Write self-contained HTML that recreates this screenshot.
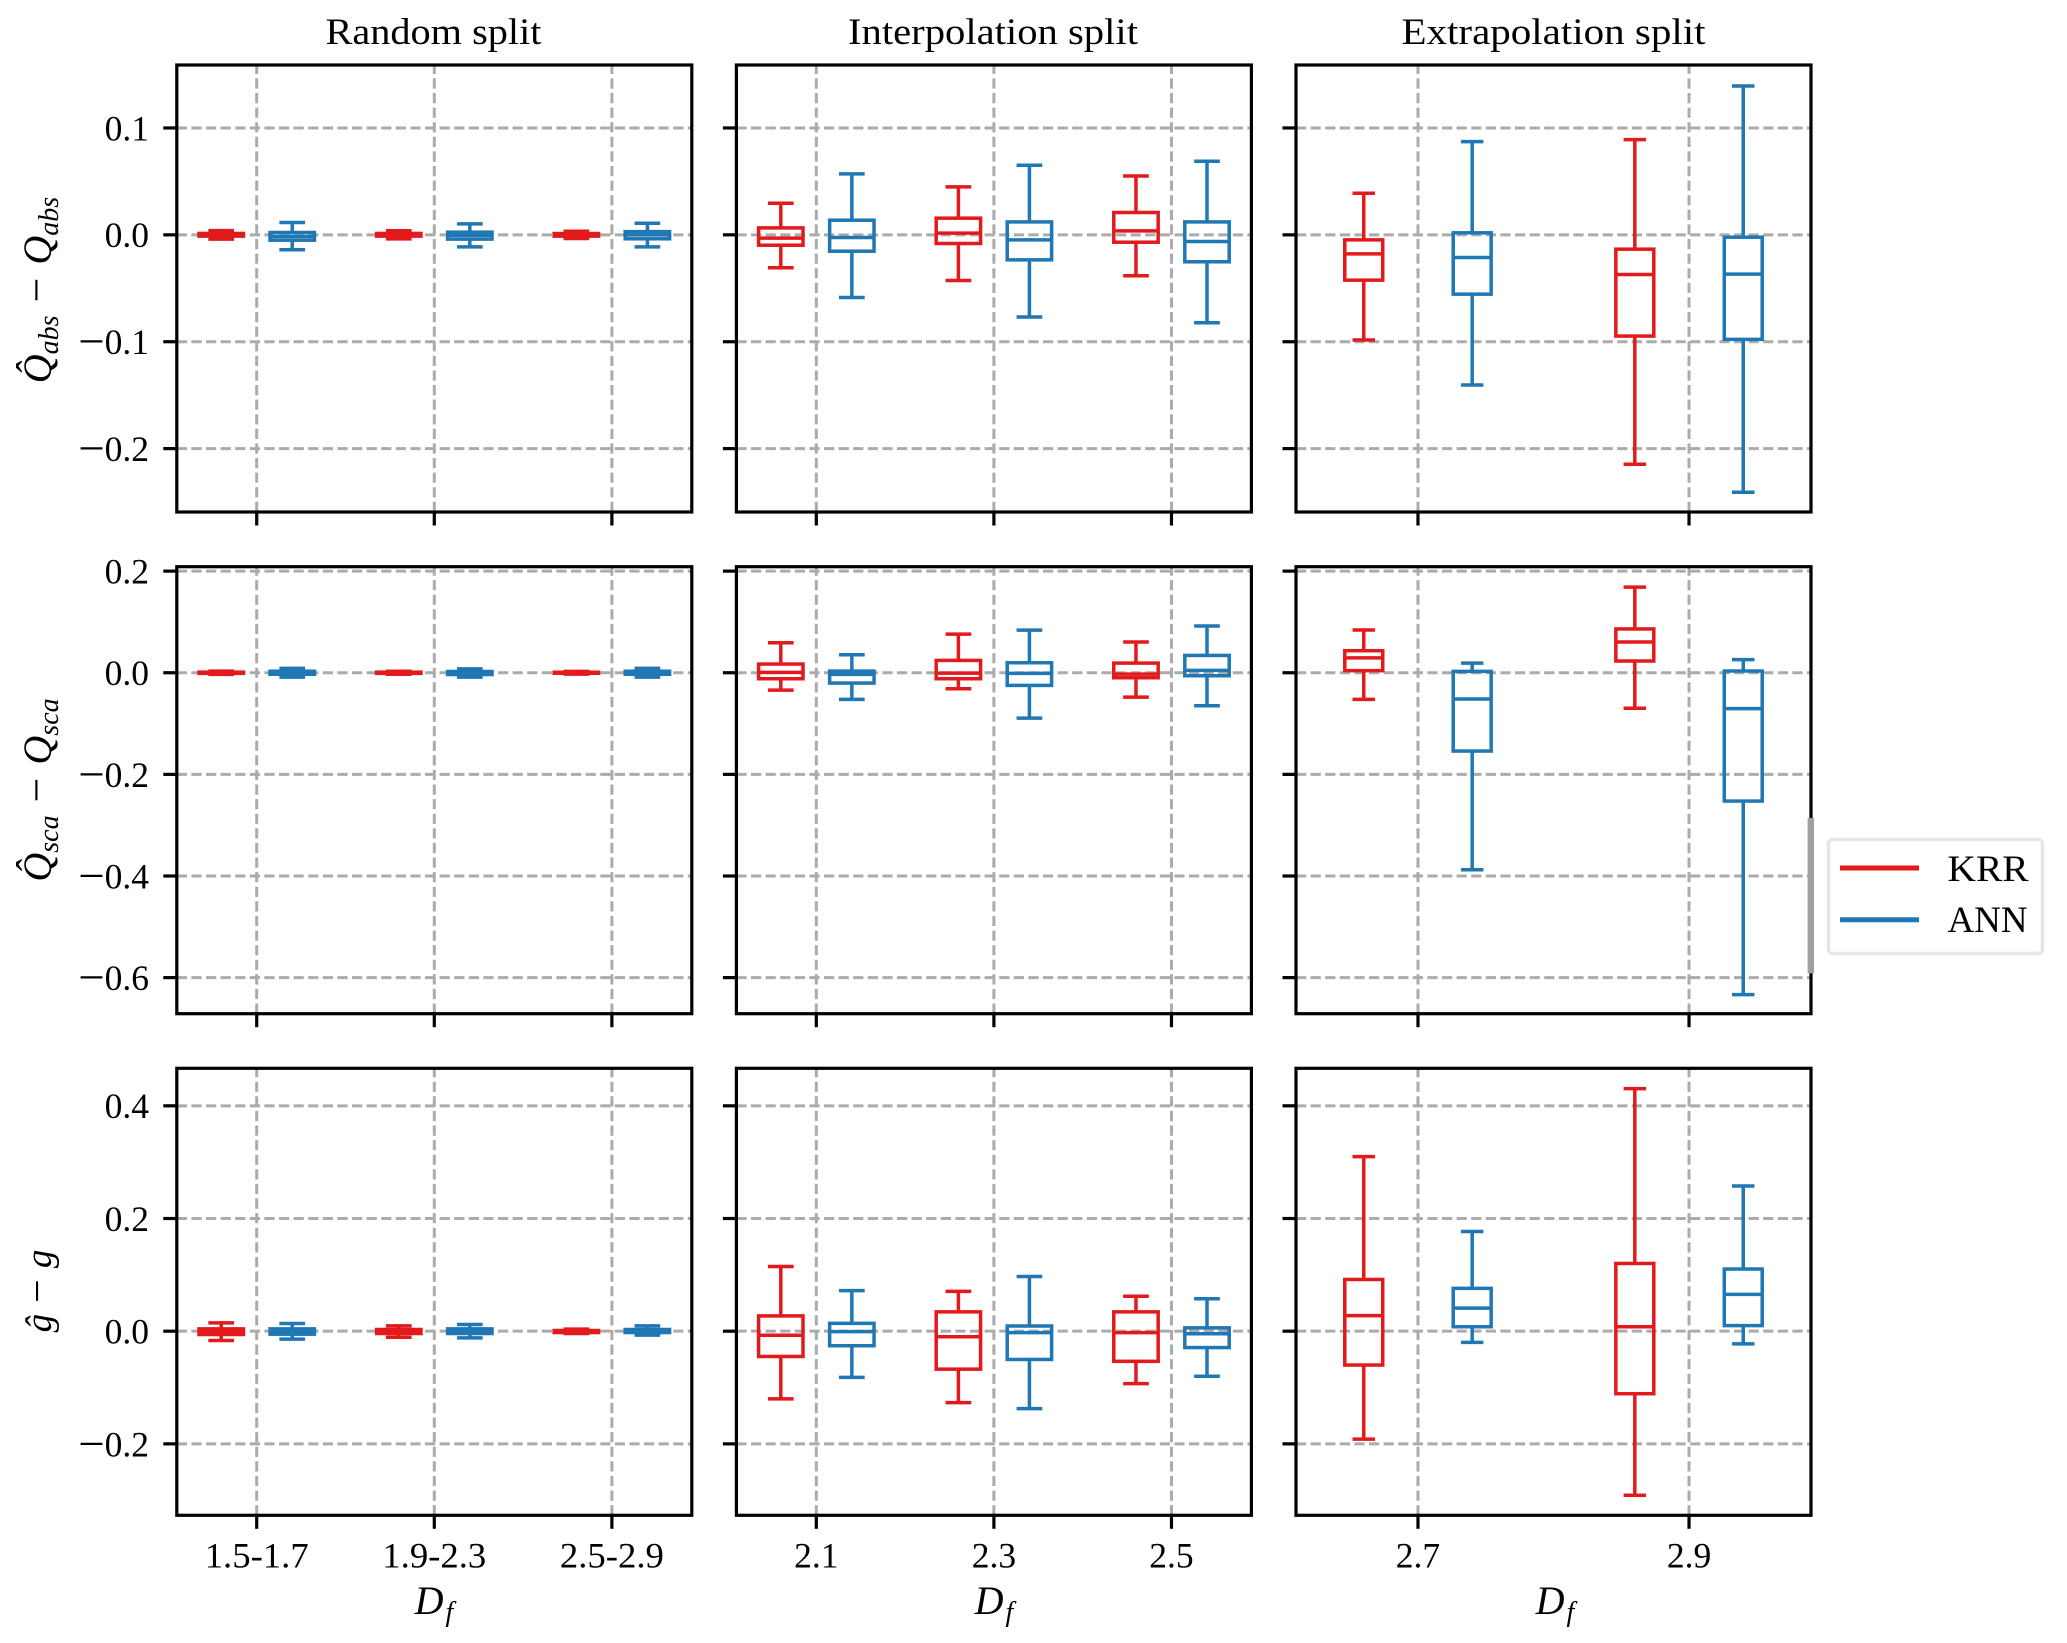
<!DOCTYPE html>
<html lang="en">
<head>
<meta charset="utf-8">
<title>Prediction error box plots</title>
<style>
html,body{margin:0;padding:0;background:#fff;}
svg{display:block;}
text{font-family:"Liberation Serif","DejaVu Serif",serif;fill:#000;}
</style>
</head>
<body>
<svg id="chart" xmlns="http://www.w3.org/2000/svg" width="2067" height="1643" viewBox="0 0 2067 1643">
  <rect x="0" y="0" width="2067" height="1643" fill="#fff"/>
  <g id="panels"></g>

  <text x="433.5" y="44" text-anchor="middle" font-size="37" textLength="216" lengthAdjust="spacingAndGlyphs">Random split</text>
  <text x="993" y="44" text-anchor="middle" font-size="37" textLength="290" lengthAdjust="spacingAndGlyphs">Interpolation split</text>
  <text x="1553.5" y="44" text-anchor="middle" font-size="37" textLength="304" lengthAdjust="spacingAndGlyphs">Extrapolation split</text>

  <text transform="translate(51,290) rotate(-90)" text-anchor="middle" font-size="40" font-style="italic">Q&#770;<tspan font-size="28" dy="7">abs</tspan><tspan dy="-7" dx="13" font-style="normal" font-size="44">&#8722;</tspan><tspan dx="13">Q</tspan><tspan font-size="28" dy="7">abs</tspan></text>
  <text transform="translate(51,790) rotate(-90)" text-anchor="middle" font-size="40" font-style="italic">Q&#770;<tspan font-size="28" dy="7">sca</tspan><tspan dy="-7" dx="13" font-style="normal" font-size="44">&#8722;</tspan><tspan dx="13">Q</tspan><tspan font-size="28" dy="7">sca</tspan></text>
  <text transform="translate(51,1291) rotate(-90)" text-anchor="middle" font-size="37" font-style="italic">g&#770;<tspan dx="11" font-style="normal" font-size="42">&#8722;</tspan><tspan dx="11">g</tspan></text>

  <text x="434" y="1614" text-anchor="middle" font-size="40" font-style="italic">D<tspan font-size="28" dy="7" dx="2">f</tspan></text>
  <text x="994" y="1614" text-anchor="middle" font-size="40" font-style="italic">D<tspan font-size="28" dy="7" dx="2">f</tspan></text>
  <text x="1555" y="1614" text-anchor="middle" font-size="40" font-style="italic">D<tspan font-size="28" dy="7" dx="2">f</tspan></text>

  <g>
    <rect x="1828.5" y="839.5" width="214" height="114" rx="4" ry="4" fill="#fff" stroke="#e6e6e6" stroke-width="3.5"/>
    <line x1="1840" y1="868" x2="1919" y2="868" stroke="#e31a1c" stroke-width="5"/>
    <text x="1947.5" y="881" font-size="37" textLength="81" lengthAdjust="spacingAndGlyphs">KRR</text>
    <line x1="1840" y1="919.7" x2="1919" y2="919.7" stroke="#1f77b4" stroke-width="5"/>
    <text x="1947.5" y="932" font-size="37" textLength="80" lengthAdjust="spacingAndGlyphs">ANN</text>
  </g>
</svg>

<script>
// Box statistics: each entry is [upper whisker, Q3, median, Q1, lower whisker]
const absRandomKRR = [[0.0040,0.0013,0,-0.0012,-0.0040],[0.0038,0.0013,0,-0.0012,-0.0038],[0.0034,0.0012,0,-0.0012,-0.0034]];
const absRandomANN = [[0.0115,0.0022,-0.0015,-0.0050,-0.0140],[0.0103,0.0025,-0.0005,-0.0040,-0.0112],[0.0109,0.0030,0,-0.0037,-0.0112]];
const absInterpKRR = [[0.0296,0.0065,-0.0031,-0.0097,-0.0308],[0.0449,0.0156,0.0016,-0.0081,-0.0427],[0.0551,0.0209,0.0037,-0.0069,-0.0383]];
const absInterpANN = [[0.0570,0.0137,-0.0025,-0.0153,-0.0586],[0.0651,0.0121,-0.0047,-0.0234,-0.0769],[0.0688,0.0121,-0.0062,-0.0252,-0.0822]];
const absExtrapKRR = [[0.0389,-0.0047,-0.0178,-0.0424,-0.0984],[0.0891,-0.0134,-0.0371,-0.0947,-0.2146]];
const absExtrapANN = [[0.0872,0.0019,-0.0212,-0.0555,-0.1405],[0.1393,-0.0022,-0.0368,-0.0978,-0.2408]];

const scaRandomKRR = [[0.0033,0.0012,0,-0.0012,-0.0033],[0.0030,0.0012,0,-0.0012,-0.0030],[0.0026,0.0010,0,-0.0010,-0.0026]];
const scaRandomANN = [[0.0085,0.0030,0,-0.0030,-0.0085],[0.0075,0.0025,-0.0005,-0.0035,-0.0085],[0.0085,0.0030,0,-0.0030,-0.0085]];
const scaInterpKRR = [[0.0591,0.0171,0.0007,-0.0118,-0.0341],[0.0761,0.0243,-0.0007,-0.0118,-0.0315],[0.0604,0.0190,-0.0026,-0.0098,-0.0479]];
const scaInterpANN = [[0.0354,0.0033,-0.0033,-0.0203,-0.0525],[0.0840,0.0197,-0.0013,-0.0249,-0.0892],[0.0919,0.0341,0.0046,-0.0059,-0.0650]];
const scaExtrapKRR = [[0.0842,0.0434,0.0292,0.0041,-0.0523],[0.1684,0.0862,0.0604,0.0231,-0.0699]];
const scaExtrapANN = [[0.0190,0.0027,-0.0516,-0.1541,-0.3876],[0.0258,0.0034,-0.0706,-0.2525,-0.6334]];

const gRandomKRR = [[0.0148,0.0041,-0.0010,-0.0059,-0.0166],[0.0095,0.0030,-0.0005,-0.0041,-0.0107],[0.0036,0.0012,-0.0005,-0.0024,-0.0041]];
const gRandomANN = [[0.0136,0.0041,-0.0010,-0.0053,-0.0142],[0.0118,0.0041,0,-0.0041,-0.0118],[0.0095,0.0030,0.0005,-0.0024,-0.0071]];
const gInterpKRR = [[0.1149,0.0271,-0.0073,-0.0449,-0.1202],[0.0707,0.0343,-0.0099,-0.0674,-0.1268],[0.0621,0.0343,-0.0026,-0.0535,-0.0931]];
const gInterpANN = [[0.0720,0.0139,-0.0007,-0.0258,-0.0819],[0.0971,0.0092,-0.0026,-0.0502,-0.1374],[0.0575,0.0059,-0.0046,-0.0291,-0.0799]];
const gExtrapKRR = [[0.3098,0.0918,0.0277,-0.0601,-0.1915],[0.4306,0.1202,0.0079,-0.1110,-0.2913]];
const gExtrapANN = [[0.1770,0.0760,0.0410,0.0079,-0.0198],[0.2576,0.1103,0.0654,0.0099,-0.0225]];

// Axis ticks and labels
const yTicksAbs = [0.1, 0.0, -0.1, -0.2];
const yTicksSca = [0.2, 0.0, -0.2, -0.4, -0.6];
const yTicksG = [0.4, 0.2, 0.0, -0.2];
const xLabelsRandom = ['1.5-1.7', '1.9-2.3', '2.5-2.9'];
const xLabelsInterp = ['2.1', '2.3', '2.5'];
const xLabelsExtrap = ['2.7', '2.9'];

// Axis domains
const yDomainAbs = [-0.2593, 0.1589];
const yDomainSca = [-0.671, 0.2087];
const yDomainG = [-0.3268, 0.4666];

const rowSeries = [
  [[absRandomKRR, absRandomANN], [absInterpKRR, absInterpANN], [absExtrapKRR, absExtrapANN]],
  [[scaRandomKRR, scaRandomANN], [scaInterpKRR, scaInterpANN], [scaExtrapKRR, scaExtrapANN]],
  [[gRandomKRR, gRandomANN], [gInterpKRR, gInterpANN], [gExtrapKRR, gExtrapANN]]
];
const rowTicks = [yTicksAbs, yTicksSca, yTicksG];
const rowDomains = [yDomainAbs, yDomainSca, yDomainG];
const colLabels = [xLabelsRandom, xLabelsInterp, xLabelsExtrap];
const rowKeys = ['qabs', 'qsca', 'g'];
const colKeys = ['random', 'interpolation', 'extrapolation'];
const seriesKeys = ['krr', 'ann'];

// Layout (styling, not data)
const colLeft = [176.8, 736.4, 1296];
const rowTop = [65, 566.7, 1068.3];
const panelW = 515;
const panelH = 447;
const BOX_LW = 3.5;
const GRID_LW = 3;
const AXIS_LW = 3.2;
const GRID = '#ababab';
const seriesColors = ['#e31a1c', '#1f77b4'];
const seriesOffsets = [-0.2, 0.2];
const boxWidths = [0.25, 0.25, 0.14];
const NS = 'http://www.w3.org/2000/svg';

function xScale(col, v) {
  const n = colLabels[col].length;
  const lo = -0.45, hi = n - 1 + 0.45;
  return colLeft[col] + (v - lo) / (hi - lo) * panelW;
}
function yScale(row, v) {
  const d = rowDomains[row];
  return rowTop[row] + (d[1] - v) / (d[1] - d[0]) * panelH;
}
function make(tag, parent, attrs) {
  const el = document.createElementNS(NS, tag);
  for (const k in attrs) el.setAttribute(k, attrs[k]);
  parent.appendChild(el);
  return el;
}
function fmt(v) { return Math.abs(v).toFixed(1); }

const root = document.getElementById('panels');

rowSeries.forEach(function (cols, r) {
  cols.forEach(function (series, c) {
    const key = rowKeys[r] + '-' + colKeys[c];
    const left = colLeft[c], right = left + panelW;
    const top = rowTop[r], bottom = top + panelH;
    const bw = boxWidths[c];

    const panel = make('g', root, {});
    
    

    // grid lines
    rowTicks[r].forEach(function (t) {
      const y = yScale(r, t);
      const g = make('line', panel, { x1: left, y1: y, x2: right, y2: y, stroke: GRID, 'stroke-width': GRID_LW, 'stroke-dasharray': '10.2 4.4' });
      
      
    });
    colLabels[c].forEach(function (lab, i) {
      const x = xScale(c, i);
      const g = make('line', panel, { x1: x, y1: bottom, x2: x, y2: top, stroke: GRID, 'stroke-width': GRID_LW, 'stroke-dasharray': '10.2 4.4' });
      
      
    });

    // box plots
    series.forEach(function (stats, s) {
      const color = seriesColors[s];
      stats.forEach(function (st, i) {
        const pos = i + seriesOffsets[s];
        const cx = xScale(c, pos);
        const x0 = xScale(c, pos - bw / 2);
        const x1 = xScale(c, pos + bw / 2);
        const capL = xScale(c, pos - bw / 4);
        const capR = xScale(c, pos + bw / 4);
        const yHi = yScale(r, st[0]), yQ3 = yScale(r, st[1]), yMed = yScale(r, st[2]), yQ1 = yScale(r, st[3]), yLo = yScale(r, st[4]);
        const common = { stroke: color, 'stroke-width': BOX_LW, fill: 'none' };

        const box = make('g', panel, {});
        
        

        const whiskUp = make('line', box, Object.assign({ x1: cx, y1: yQ3, x2: cx, y2: yHi }, common));
        
        
        const whiskLo = make('line', box, Object.assign({ x1: cx, y1: yQ1, x2: cx, y2: yLo }, common));
        
        
        const capUp = make('line', box, Object.assign({ x1: capL, y1: yHi, x2: capR, y2: yHi, 'stroke-linecap': 'square' }, common));
        
        
        const capLo = make('line', box, Object.assign({ x1: capL, y1: yLo, x2: capR, y2: yLo, 'stroke-linecap': 'square' }, common));
        
        
        const rect = make('rect', box, Object.assign({ x: x0, y: yQ3, width: x1 - x0, height: yQ1 - yQ3 }, common));
        
        
        const med = make('line', box, Object.assign({ x1: x0, y1: yMed, x2: x1, y2: yMed }, common));
        
        
      });
    });

    // spines
    const frame = make('rect', panel, { x: left, y: top, width: panelW, height: panelH, fill: 'none', stroke: '#000', 'stroke-width': AXIS_LW });
    
    

    // y ticks
    rowTicks[r].forEach(function (t) {
      const y = yScale(r, t);
      const tick = make('line', panel, { x1: left - 13.5, y1: y, x2: left, y2: y, stroke: '#000', 'stroke-width': AXIS_LW });
      
      
      if (c === 0) {
        const label = make('text', panel, { x: 149, y: y + 12.4, 'text-anchor': 'end', 'font-size': 35.5 });
        
        
        if (t < 0) {
          const minus = make('tspan', label, { 'font-size': 47, dy: 3 });
          minus.textContent = '\u2212';
          const num = make('tspan', label, { dy: -3 });
          num.textContent = fmt(t);
        } else {
          label.textContent = fmt(t);
        }
      }
    });

    // x ticks
    colLabels[c].forEach(function (lab, i) {
      const x = xScale(c, i);
      const tick = make('line', panel, { x1: x, y1: bottom, x2: x, y2: bottom + 13.5, stroke: '#000', 'stroke-width': AXIS_LW });
      
      
      if (r === 2) {
        const attrs = { x: x, y: 1567.5, 'text-anchor': 'middle', 'font-size': 35.5 };
        if (lab.length > 3) { attrs.textLength = 104; attrs.lengthAdjust = 'spacingAndGlyphs'; }
        const label = make('text', panel, attrs);
        
        
        label.textContent = lab;
      }
    });
  });
});

// Gray bar overlapping the right spine of the middle-right panel, drawn last so it sits above the frame
const spineBar = make('rect', document.getElementById('chart'), { x: 1807.6, y: 818, width: 6.4, height: 155.4, fill: '#a0a0a0' });


</script>
</body>
</html>
